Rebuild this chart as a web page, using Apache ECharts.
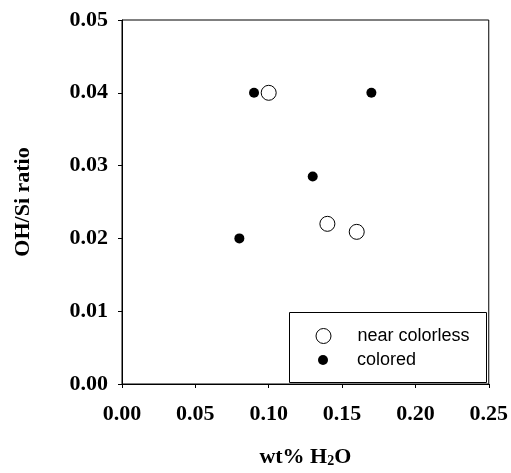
<!DOCTYPE html>
<html><head><meta charset="utf-8">
<script src="https://cdn.jsdelivr.net/npm/echarts@6/dist/echarts.min.js"></script>
<style>html,body{margin:0;padding:0;background:#fff}#c{width:511px;height:473px}</style>
</head><body><div id="c"></div>
<script>
var seriesNames = ['near colorless', 'colored'];
var nearColorlessX = [0.100, 0.140, 0.160];
var nearColorlessY = [0.0400, 0.0220, 0.0209];
var coloredX = [0.090, 0.170, 0.130, 0.080];
var coloredY = [0.0400, 0.0400, 0.0285, 0.0200];
var xTicks = [0, 0.05, 0.10, 0.15, 0.20, 0.25];
var yTicks = [0, 0.01, 0.02, 0.03, 0.04, 0.05];

function pairs(xs, ys){ return xs.map(function(x,i){ return [x, ys[i]]; }); }
var serif = '"Liberation Serif", "Times New Roman", serif';
var sans = '"Liberation Sans", Arial, sans-serif';

var chart = echarts.init(document.getElementById('c'));
chart.setOption({
  animation: false,
  grid: {left: 122, right: 22, top: 20, bottom: 86.3, show: true, borderColor: '#000', borderWidth: 1, backgroundColor: 'transparent'},
  xAxis: {
    type: 'value', min: xTicks[0], max: xTicks[xTicks.length-1], interval: 0.05,
    splitLine: {show: false},
    axisLine: {show: true, onZero: false, lineStyle: {color: '#000', width: 1}},
    axisTick: {show: true, length: 4, lineStyle: {color: '#000'}},
    axisLabel: {color: '#000', fontFamily: serif, fontWeight: 'bold', fontSize: 22, margin: 19,
      formatter: function(v){ return v.toFixed(2); }},
    name: '{b|wt% H}{s|2}{b|O}', nameLocation: 'middle', nameGap: 62,
    nameTextStyle: {rich: {
      b: {fontFamily: serif, fontWeight: 'bold', fontSize: 22, lineHeight: 22, color: '#000', verticalAlign: 'bottom'},
      s: {fontFamily: serif, fontWeight: 'bold', fontSize: 14, lineHeight: 14, color: '#000', verticalAlign: 'bottom', padding: [10,0,0,0]}
    }}
  },
  yAxis: {
    type: 'value', min: yTicks[0], max: yTicks[yTicks.length-1], interval: 0.01,
    splitLine: {show: false},
    axisLine: {show: true, onZero: false, lineStyle: {color: '#000', width: 1}},
    axisTick: {show: true, length: 4, lineStyle: {color: '#000'}},
    axisLabel: {color: '#000', fontFamily: serif, fontWeight: 'bold', fontSize: 22, margin: 14,
      formatter: function(v){ return v.toFixed(2); }},
    name: 'OH/Si ratio', nameLocation: 'middle', nameGap: 88,
    nameTextStyle: {fontFamily: serif, fontWeight: 'bold', fontSize: 22, color: '#000'}
  },
  legend: [
    {data: [seriesNames[0]], left: 315.5, top: 327, padding: 0, itemWidth: 15, itemHeight: 15, itemGap: 0,
     itemStyle: {borderWidth: 1, borderColor: '#000', color: '#fff'},
     textStyle: {fontFamily: sans, fontSize: 18, color: '#000', padding: [0,0,0,21.5]}},
    {data: [seriesNames[1]], left: 318, top: 351, padding: 0, itemWidth: 10, itemHeight: 10, itemGap: 0,
     textStyle: {fontFamily: sans, fontSize: 18, color: '#000', padding: [0,0,0,24]}}
  ],
  graphic: [{type: 'rect', shape: {x: 289.5, y: 312.5, width: 197, height: 70}, style: {fill: 'none', stroke: '#000', lineWidth: 1}, z: 10}],
  series: [
    {name: seriesNames[0], type: 'scatter', symbol: 'circle', symbolSize: 15,
     itemStyle: {color: '#fff', borderColor: '#000', borderWidth: 1, opacity: 1},
     data: pairs(nearColorlessX, nearColorlessY), z: 2},
    {name: seriesNames[1], type: 'scatter', symbol: 'circle', symbolSize: 10,
     itemStyle: {color: '#000', opacity: 1},
     data: pairs(coloredX, coloredY), z: 1}
  ]
});
</script></body></html>
